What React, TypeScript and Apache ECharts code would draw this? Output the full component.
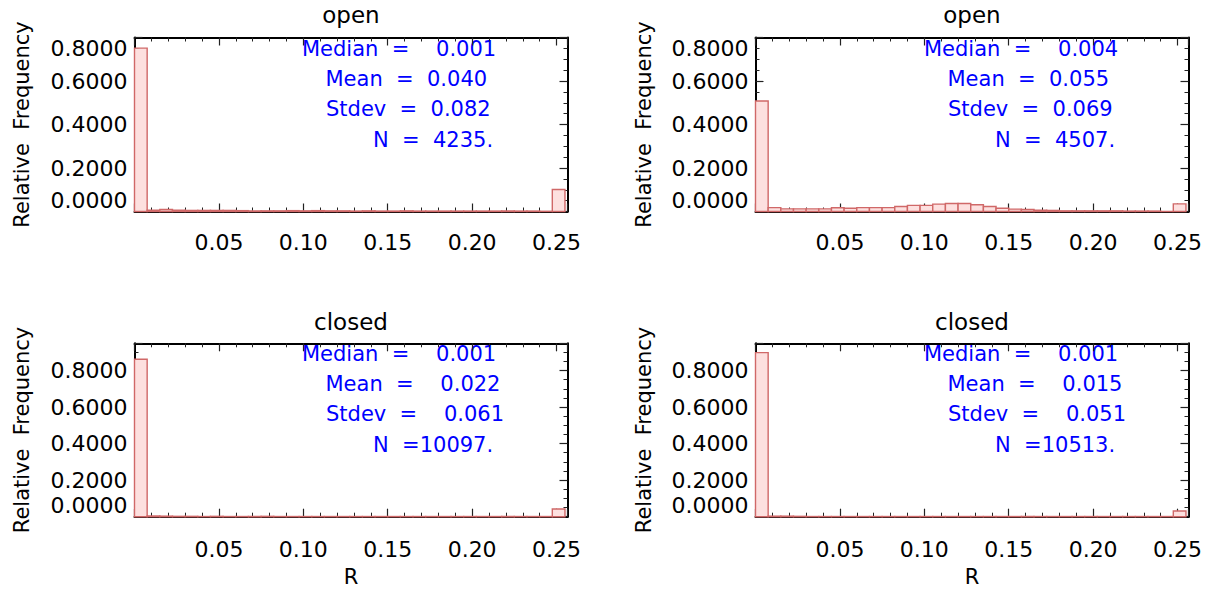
import React, { useEffect, useRef } from "react";
import * as echarts from "echarts";

// ---- data (relative frequency per bin of R) ----
const BIN_WIDTH = 0.0075;
const X_MAX = 0.2565;

const openLeft = [
  0.751, 0.006, 0.009, 0.006, 0.005, 0.005, 0.005, 0.005, 0.004, 0.003, 0.003, 0.003,
  0.004, 0.003, 0.004, 0.003, 0.003, 0.002, 0.003, 0.002, 0.002, 0.003, 0.002, 0.002,
  0.002, 0.002, 0.002, 0.002, 0.002, 0.002, 0.002, 0.002, 0.001, 0.101,
];
const openRight = [
  0.508, 0.018, 0.012, 0.012, 0.012, 0.012, 0.017, 0.015, 0.018, 0.018, 0.018, 0.023,
  0.028, 0.028, 0.034, 0.037, 0.037, 0.031, 0.023, 0.015, 0.011, 0.009, 0.006, 0.005,
  0.003, 0.003, 0.003, 0.003, 0.003, 0.002, 0.002, 0.002, 0.0, 0.035,
];
const closedLeft = [
  0.862, 0.004, 0.003, 0.002, 0.002, 0.001, 0.002, 0.001, 0.001, 0.001, 0.002, 0.001,
  0.001, 0.001, 0.001, 0.001, 0.001, 0.001, 0.001, 0.001, 0.001, 0.001, 0.001, 0.001,
  0.001, 0.001, 0.001, 0.001, 0.001, 0.001, 0.001, 0.001, 0.001, 0.042,
];
const closedRight = [
  0.898, 0.003, 0.003, 0.002, 0.001, 0.001, 0.001, 0.001, 0.001, 0.001, 0.001, 0.001,
  0.001, 0.001, 0.001, 0.001, 0.001, 0.001, 0.001, 0.001, 0.001, 0.001, 0.001, 0.001,
  0.001, 0.001, 0.001, 0.001, 0.001, 0.001, 0.001, 0.001, 0.001, 0.031,
];

const panelTitles = ["open", "open", "closed", "closed"];
const panelYMax = [0.8, 0.8, 0.949, 0.949];
const statsOpenLeft = ["Median  =    0.001", "Mean  =  0.040", "Stdev  =  0.082", "N  =  4235."];
const statsOpenRight = ["Median  =    0.004", "Mean  =  0.055", "Stdev  =  0.069", "N  =  4507."];
const statsClosedLeft = ["Median  =    0.001", "Mean  =    0.022", "Stdev  =    0.061", "N  =10097."];
const statsClosedRight = ["Median  =    0.001", "Mean  =    0.015", "Stdev  =    0.051", "N  =10513."];

const panelData = [openLeft, openRight, closedLeft, closedRight];
const panelStats = [statsOpenLeft, statsOpenRight, statsClosedLeft, statsClosedRight];

const FONT = '"DejaVu Sans", sans-serif';

export default function App() {
  const ref = useRef<HTMLDivElement>(null);
  useEffect(() => {
    if (!ref.current) return;
    const chart = echarts.init(ref.current, null, { renderer: "svg" });

    const grids = [
      { left: 134.5, top: 37.5, width: 433, height: 174 },
      { left: 755.5, top: 37.5, width: 433, height: 174 },
      { left: 134.5, top: 343.3, width: 433, height: 173.4 },
      { left: 755.5, top: 343.3, width: 433, height: 173.4 },
    ];

    const xAxes: any[] = [];
    const yAxes: any[] = [];
    const series: any[] = [];
    const graphics: any[] = [];

    const lineStyle = { color: "#000", width: 2 };
    grids.forEach((g, i) => {
      const isBottom = i >= 2;
      const base = {
        gridIndex: i,
        type: "value",
        min: 0,
        max: X_MAX,
        interval: 0.05,
        axisLine: { show: true, onZero: false, lineStyle },
        axisTick: { show: true, inside: true, length: 8, lineStyle: { color: "#222", width: 1.2 } },
        minorTick: { show: true, splitNumber: 5, length: 4, lineStyle: { color: "#222", width: 1 } },
        splitLine: { show: false },
        minorSplitLine: { show: false },
      };
      xAxes.push({
        ...base,
        position: "bottom",
        axisLabel: {
          show: true,
          showMinLabel: false,
          showMaxLabel: false,
          margin: isBottom ? 22 : 20,
          color: "#000",
          fontFamily: FONT,
          fontSize: 22,
          formatter: (v: number) => v.toFixed(2),
        },
      });
      xAxes.push({ ...base, position: "top", axisLabel: { show: false } });

      const ybase = {
        gridIndex: i,
        type: "value",
        min: 0,
        max: panelYMax[i],
        interval: 0.2,
        axisLine: { show: true, onZero: false, lineStyle },
        axisTick: { show: true, inside: true, length: 8, lineStyle: { color: "#222", width: 1.2 } },
        minorTick: { show: true, splitNumber: 4, length: 4, lineStyle: { color: "#222", width: 1 } },
        splitLine: { show: false },
        minorSplitLine: { show: false },
      };
      yAxes.push({
        ...ybase,
        position: "left",
        axisLabel: {
          show: true,
          margin: 7,
          color: "#000",
          fontFamily: FONT,
          fontSize: 22,
          showMaxLabel: !isBottom,
          verticalAlignMinLabel: "bottom",
          verticalAlignMaxLabel: "top",
          formatter: (v: number) => v.toFixed(4),
        },
      });
      yAxes.push({ ...ybase, position: "right", axisLabel: { show: false } });

      const vals = panelData[i];
      series.push({
        type: "custom",
        xAxisIndex: 2 * i,
        yAxisIndex: 2 * i,
        data: vals.map((v, k) => [k * BIN_WIDTH, (k + 1) * BIN_WIDTH, v]),
        encode: { x: [0, 1], y: 2 },
        renderItem: (_p: any, api: any) => {
          const p0 = api.coord([api.value(0), api.value(2)]);
          const p1 = api.coord([api.value(1), 0]);
          return {
            type: "rect",
            shape: { x: p0[0], y: p0[1], width: p1[0] - p0[0], height: p1[1] - p0[1] },
            style: { fill: "#fde0df", stroke: "#d06868", lineWidth: 1.4 },
          };
        },
      });

      const cx = g.left + g.width / 2;
      const dx = i % 2 === 1 ? 622 : 0;
      graphics.push({
        type: "text",
        x: cx,
        y: isBottom ? 322 : 15,
        style: {
          text: panelTitles[i],
          font: `23px ${FONT}`,
          fill: "#000",
          textAlign: "center",
          textVerticalAlign: "middle",
        },
      });
      graphics.push({
        type: "text",
        x: 22 + dx,
        y: g.top + g.height / 2,
        rotation: Math.PI / 2,
        style: {
          text: "Relative  Frequency",
          font: `21px ${FONT}`,
          fill: "#000",
          textAlign: "center",
          textVerticalAlign: "middle",
        },
      });
      if (isBottom) {
        graphics.push({
          type: "text",
          x: cx,
          y: 577,
          style: {
            text: "R",
            font: `21px ${FONT}`,
            fill: "#000",
            textAlign: "center",
            textVerticalAlign: "middle",
          },
        });
      }
      const statX = [302, 325.5, 326, 373];
      const statY = isBottom ? [354, 384, 414, 444.5] : [48.5, 78.5, 109, 139.5];
      panelStats[i].forEach((s, k) => {
        graphics.push({
          type: "text",
          x: statX[k] + dx,
          y: statY[k],
          style: {
            text: s,
            font: `21px ${FONT}`,
            fill: "#0000ff",
            textAlign: "left",
            textVerticalAlign: "middle",
          },
        });
      });
    });

    chart.setOption({
      animation: false,
      backgroundColor: "#fff",
      grid: grids.map((g) => ({ ...g, containLabel: false, outerBoundsMode: "none" })),
      xAxis: xAxes,
      yAxis: yAxes,
      series,
      graphic: graphics,
    });
    return () => chart.dispose();
  }, []);

  return (
    <div
      ref={ref}
      style={{ position: "fixed", left: 0, top: 0, width: 1212, height: 590, background: "#fff" }}
    />
  );
}
